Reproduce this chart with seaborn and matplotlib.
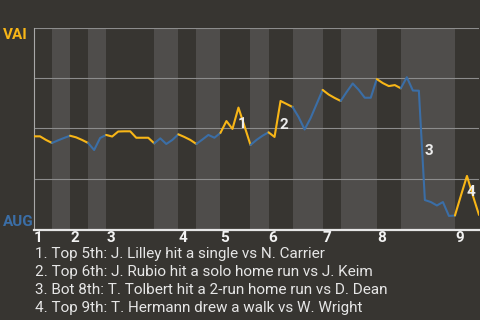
import matplotlib
matplotlib.use("Agg")
import matplotlib.pyplot as plt
import seaborn as sns
import pandas as pd
import numpy as np

# ---- data ----
plays_per_half = [3, 3, 3, 3, 8, 4, 3, 4, 5, 3, 4, 5, 3, 6, 4, 9, 4]
vai_wp = [0.461, 0.461, 0.443, 0.428, 0.441, 0.453, 0.464, 0.456, 0.443, 0.428,
          0.393, 0.453, 0.468, 0.460, 0.485, 0.486, 0.486, 0.454, 0.454, 0.454,
          0.426, 0.451, 0.423, 0.443, 0.471, 0.458, 0.443, 0.423, 0.445, 0.468,
          0.454, 0.478, 0.537, 0.498, 0.604, 0.512, 0.418, 0.443, 0.464, 0.481,
          0.458, 0.637, 0.622, 0.607, 0.557, 0.495, 0.552, 0.622, 0.692, 0.669,
          0.652, 0.637, 0.682, 0.724, 0.692, 0.653, 0.653, 0.746, 0.726, 0.711,
          0.716, 0.700, 0.755, 0.689, 0.688, 0.144, 0.134, 0.117, 0.134, 0.065,
          0.067, 0.167, 0.264, 0.164, 0.070]
inning_labels = ["1", "2", "3", "4", "5", "6", "7", "8", "9"]
event_plays = [34, 41, 65, 72]
event_marks = ["1", "2", "3", "4"]
event_texts = [
    "1. Top 5th: J. Lilley hit a single vs N. Carrier",
    "2. Top 6th: J. Rubio hit a solo home run vs J. Keim",
    "3. Bot 8th: T. Tolbert hit a 2-run home run vs D. Dean",
    "4. Top 9th: T. Hermann drew a walk vs W. Wright",
]
top_team, bottom_team = "VAI", "AUG"

# ---- style ----
BG = "#373531"
BAND = "#4f4d4b"
GOLD = "#f8b617"
BLUE = "#3b6ea6"
TXT = "#e6e6e6"

sns.set_style("dark")
plt.rcParams["font.family"] = ["Roboto", "DejaVu Sans"]

fig = plt.figure(figsize=(4.8, 3.2), dpi=100, facecolor=BG)
ax = fig.add_axes([34 / 480, 1 - 230 / 320, 445 / 480, 202 / 320])
ax.set_facecolor(BG)

bounds = np.concatenate([[0], np.cumsum(plays_per_half)])
rows = []
for h in range(len(plays_per_half)):
    for i in range(bounds[h], bounds[h + 1] + 1):
        rows.append({"play": i, "wp": vai_wp[i], "half": h})
df = pd.DataFrame(rows)
palette = {h: (GOLD if h % 2 == 0 else BLUE) for h in range(len(plays_per_half))}

for h in range(1, len(plays_per_half), 2):
    ax.axvspan(bounds[h], bounds[h + 1], color=BAND, lw=0, zorder=0.2)

sns.lineplot(data=df, x="play", y="wp", hue="half", palette=palette,
             estimator=None, sort=False, legend=False, lw=1.5, ax=ax, zorder=3)

ax.set_xlim(0, bounds[-1])
ax.set_ylim(-0.005, 1.0)
ax.set_yticks([0.25, 0.5, 0.75, 1.0])
ax.yaxis.grid(True, color="#8c8c8c", lw=0.8)
ax.xaxis.grid(False)
ax.set_axisbelow(True)
ax.tick_params(axis="y", length=0, labelleft=False)
ax.set_xticks(bounds[0:-1:2])
ax.set_xticklabels(inning_labels, ha="left", fontsize=11, fontweight="bold", color="#f2f2f2")
ax.tick_params(axis="x", length=0, pad=1)
ax.set_xlabel("")
ax.set_ylabel("")
for s in ["top", "right"]:
    ax.spines[s].set_visible(False)
ax.spines["left"].set_color("#a8a8a8")
ax.spines["left"].set_linewidth(0.8)
ax.spines["bottom"].set_color("#e6e6e6")
ax.spines["bottom"].set_linewidth(1.6)

for idx, mark in zip(event_plays, event_marks):
    y = (vai_wp[idx - 1] + vai_wp[idx]) / 2 - 0.03
    ax.text(idx + 0.6, y, mark, ha="center", va="center", fontsize=11,
            fontweight="bold", color="#ececec", zorder=4)

fig.text(2.5 / 480, 1 - 39.3 / 320, top_team, color=GOLD, fontsize=11,
         fontweight="bold", va="baseline", ha="left")
fig.text(2.5 / 480, 1 - 225.7 / 320, bottom_team, color=BLUE, fontsize=11,
         fontweight="bold", va="baseline", ha="left")

for k, t in enumerate(event_texts):
    fig.text(35 / 480, 1 - (258.3 + 18 * k) / 320, t, color=TXT, fontsize=11,
             va="baseline", ha="left")

fig.savefig("out.png", dpi=100, facecolor=BG)
